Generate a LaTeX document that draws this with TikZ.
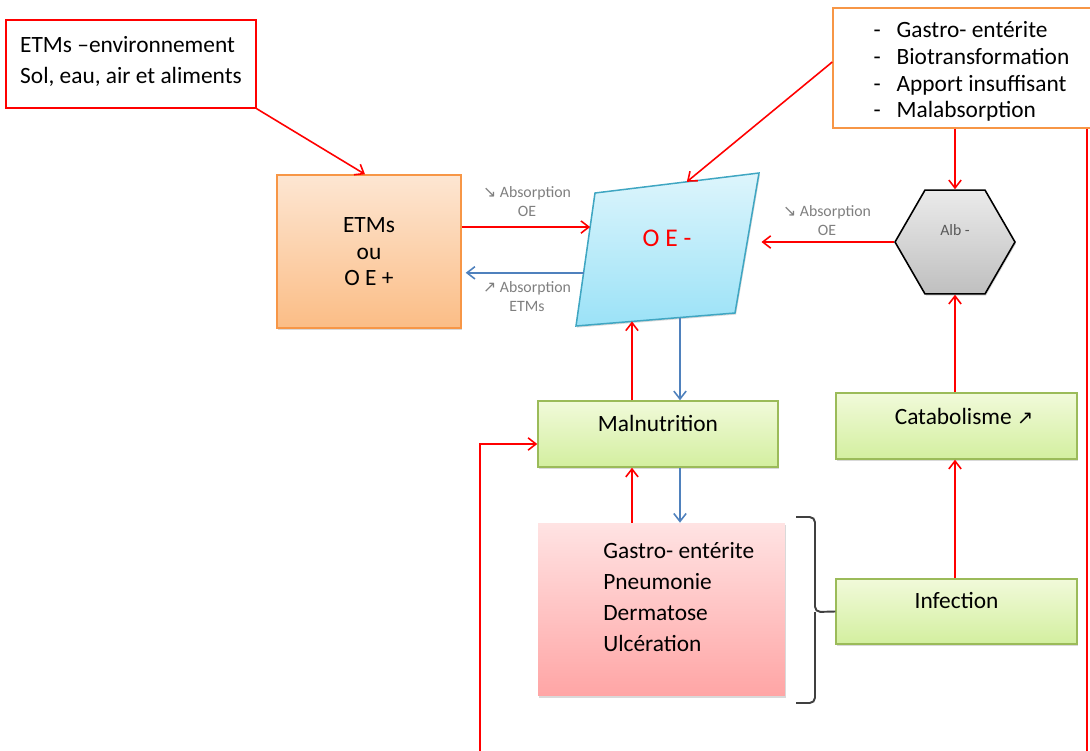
\documentclass[tikz,border=0pt]{standalone}
\usepackage{fontspec}
\setmainfont{Carlito}
\newfontfamily\symfont{DejaVu Sans}
\usetikzlibrary{arrows.meta,calc,shapes.geometric,shadows}

\definecolor{arrred}{HTML}{FF0000}
\definecolor{arrblue}{HTML}{4F81BD}
\definecolor{orangeline}{HTML}{F79646}
\definecolor{orangetop}{HTML}{FDE6D2}
\definecolor{orangebot}{HTML}{FBBD86}
\definecolor{greenline}{HTML}{9BBB59}
\definecolor{greentop}{HTML}{F1FADA}
\definecolor{greenbot}{HTML}{D3EF9F}
\definecolor{cyanline}{HTML}{3FA6C2}
\definecolor{cyantop}{HTML}{DDF5FC}
\definecolor{cyanbot}{HTML}{9BE2F7}
\definecolor{pinktop}{HTML}{FFE3E3}
\definecolor{pinkbot}{HTML}{FFA5A5}
\definecolor{labelgray}{HTML}{7F7F7F}
\definecolor{bracegray}{HTML}{404040}

\begin{document}
\begin{tikzpicture}[x=0.02cm,y=-0.02cm,
    txt/.style={font=\fontsize{13.3}{17.6}\selectfont},
    smalllab/.style={font=\fontsize{9}{10.8}\selectfont,text=labelgray,align=center,inner sep=0pt},
    redarr/.style={draw=arrred,line width=0.9pt,-{Straight Barb[length=4.5pt,width=7pt]}},
    bluearr/.style={draw=arrblue,line width=0.9pt,-{Straight Barb[length=4.5pt,width=7pt]}},
    softshadow/.style={drop shadow={shadow xshift=0.6pt,shadow yshift=-0.9pt,opacity=0.3}},
    greenbox/.style={txt,softshadow,draw=greenline,line width=0.85pt,top color=greentop,
        bottom color=greenbot,minimum width=4.82cm,inner ysep=0pt}]

    \useasboundingbox (0,0) rectangle (1090,751);
    \clip (0,0) rectangle (1090,751);

    \node[txt,draw=arrred,line width=0.85pt,align=left,minimum width=5cm,
        inner ysep=0pt,text height=1.26cm,text depth=0.5cm] (env) at (131,64)
        {ETMs –environnement\\Sol, eau, air et aliments};

    \node[txt,softshadow,draw=orangeline,line width=0.85pt,top color=orangetop,bottom color=orangebot,
        align=center,minimum width=3.68cm,inner ysep=0pt,text height=2.22cm,text depth=0.84cm,
        font=\fontsize{13.3}{15.3}\selectfont] (etm) at (369,251.5) {ETMs\\ou\\O E +};

    \node[txt,draw=orangeline,line width=0.85pt,fill=white,align=left,minimum width=5.54cm,
        inner ysep=0pt,text height=2.2cm,text depth=0.2cm,
        font=\fontsize{13.3}{15.3}\selectfont] (causes) at (971.5,68)
        {\makebox[0.46cm][l]{-}Gastro- entérite\\\makebox[0.46cm][l]{-}Biotransformation\\
         \makebox[0.46cm][l]{-}Apport insuffisant\\\makebox[0.46cm][l]{-}Malabsorption};

    \coordinate (pTL) at (595,193);
    \coordinate (pTR) at (759,173);
    \coordinate (pBR) at (735,313);
    \coordinate (pBL) at (576,326);
    \path[softshadow,draw=cyanline,line width=0.85pt,top color=cyantop,bottom color=cyanbot]
        (pTL) -- (pTR) -- (pBR) -- (pBL) -- cycle;
    \node[text=arrred,font=\fontsize{14.5}{16}\selectfont] (oe) at (667,238) {O E -};

    \node[regular polygon,regular polygon sides=6,minimum size=2.4cm,draw=black,line width=0.9pt,
        top color=black!8,bottom color=black!25,softshadow] (alb) at (955,242) {};
    \node[font=\fontsize{9}{10}\selectfont,text=black!65] (albtxt) at (955,230) {Alb -};

    \node[greenbox,minimum width=4.8cm,text height=0.6cm,text depth=0.72cm] (maln) at (658,434) {Malnutrition};
    \node[greenbox,text height=0.62cm,text depth=0.7cm] (catab) at (956.5,426)
        {\hspace*{0.3cm}Catabolisme {\symfont\fontsize{11}{12}\selectfont ↗}};
    \node[greenbox,text height=0.58cm,text depth=0.72cm] (infect) at (956.5,611.5) {Infection};

    \node[softshadow,top color=pinktop,bottom color=pinkbot,minimum width=4.94cm,
        minimum height=3.46cm] (patho) at (661.5,609.5) {};
    \node[txt,align=left,anchor=base west,inner sep=0pt] (pathotxt) at (603,651)
        {Gastro- entérite\\Pneumonie\\Dermatose\\Ulcération};

    \node[smalllab] (lab1) at (527,202) {{\symfont ↘} Absorption\\OE};
    \node[smalllab] (lab2) at (527,297) {{\symfont ↗} Absorption\\ETMs};
    \node[smalllab] (lab3) at (827,221) {{\symfont ↘} Absorption\\OE};

    \coordinate (pTop) at ($(pTL)!0.56!(pTR)$);
    \coordinate (pL1) at ($(pTL)!0.256!(pBL)$);
    \coordinate (pL2) at ($(pTL)!0.6!(pBL)$);
    \coordinate (pR) at ($(pTR)!0.52!(pBR)+(15,0)$);
    \coordinate (pB1) at ($(pBL)!0.352!(pBR)$);
    \coordinate (pB2) at ($(pBL)!0.654!(pBR)$);
    \coordinate (botL) at (480,751);
    \coordinate (botR) at (1087,751);

    \draw[redarr] (env.south east) -- ([xshift=-0.08cm]etm.north);
    \draw[redarr] ([yshift=0.12cm]causes.west) -- (pTop);
    \draw[redarr] (etm.east |- pL1) -- (pL1);
    \draw[bluearr] (pL2) -- ([xshift=0.08cm]etm.east |- pL2);
    \draw[redarr] (alb.west) -- (pR |- alb.west);
    \draw[redarr] (maln.north -| pB1) -- (pB1);
    \draw[bluearr] (pB2) -- (maln.north -| pB2);
    \draw[redarr] (patho.north -| pB1) -- (maln.south -| pB1);
    \draw[bluearr] (maln.south -| pB2) -- (patho.north -| pB2);
    \draw[redarr] (causes.south -| alb) -- (alb.north);
    \draw[redarr] (infect.north -| alb) -- (catab.south -| alb);
    \draw[redarr] (catab.north -| alb) -- (alb.south);
    \draw[redarr] (botL) |- ([yshift=-0.2cm]maln.west);
    \draw[draw=arrred,line width=0.9pt] (causes.south -| botR) -- (botR);

    \draw[bracegray,line width=1.1pt,rounded corners=3pt] (796,517) -| (815,612) -- (infect.west);
    \draw[bracegray,line width=1.1pt,rounded corners=3pt] (796,703) -| (815,612);

\end{tikzpicture}
\end{document}
